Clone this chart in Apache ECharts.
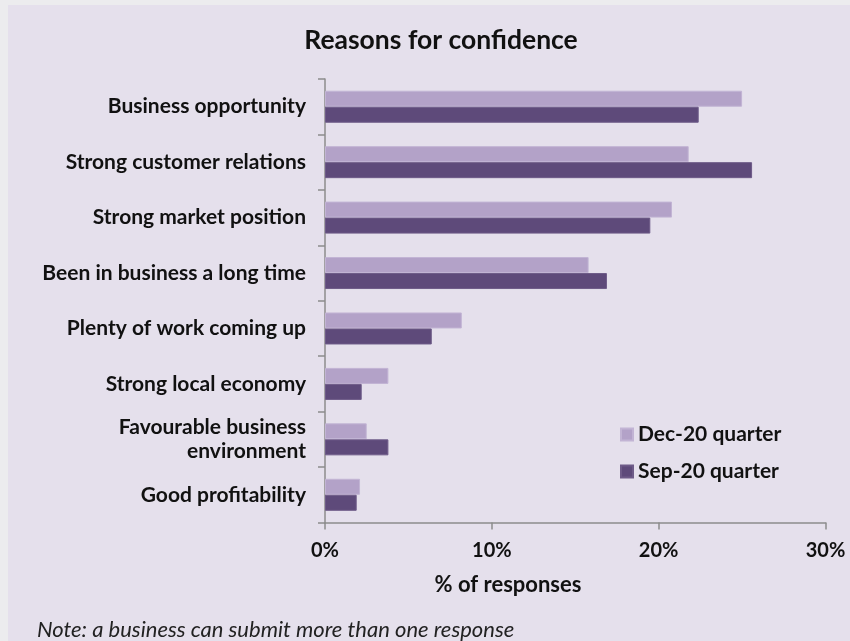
<!DOCTYPE html>
<html>
<head>
<meta charset="utf-8">
<script src="https://cdn.jsdelivr.net/npm/echarts@6/dist/echarts.min.js"></script>
<style>
html,body{margin:0;padding:0;background:#ececee;width:850px;height:641px;overflow:hidden;}
#c{position:absolute;left:8px;top:5px;width:842px;height:636px;background:#e5e0ec;}
</style>
</head>
<body>
<div id="c"></div>
<script>
const categories = ["Business opportunity","Strong customer relations","Strong market position","Been in business a long time","Plenty of work coming up","Strong local economy","Favourable business\nenvironment","Good profitability"];
const dec20 = [25.0, 21.8, 20.8, 15.8, 8.2, 3.8, 2.5, 2.1];
const sep20 = [22.4, 25.6, 19.5, 16.9, 6.4, 2.2, 3.8, 1.9];
const xTicks = [0, 10, 20, 30];

const chart = echarts.init(document.getElementById('c'), null, {renderer:'canvas'});
const F = 'Lato, "Open Sans", sans-serif';
chart.setOption({
  animation:false,
  textStyle:{fontFamily:F},
  title:[
    {text:'Reasons for confidence', left:428, top:17, textAlign:'center',
     textStyle:{fontFamily:F, fontWeight:'bold', fontSize:26.5, color:'#111'}},
    {text:'% of responses', left:495, top:564, textAlign:'center',
     textStyle:{fontFamily:F, fontWeight:'bold', fontSize:22, color:'#111'}},
    {text:'Note: a business can submit more than one response', left:24, top:609,
     textStyle:{fontFamily:F, fontStyle:'italic', fontWeight:'normal', fontSize:22, color:'#222'}}
  ],
  legend:{
    orient:'vertical', left:607, top:414, itemWidth:12, itemHeight:12, itemGap:16,
    textStyle:{fontFamily:F, fontWeight:'bold', fontSize:21, color:'#111'},
    data:['Dec-20 quarter','Sep-20 quarter'], icon:'rect'
  },
  grid:{left:317, right:24.5, top:74, bottom:118.5},
  xAxis:{
    type:'value', min:0, max:30, interval:10,
    axisLine:{show:true, lineStyle:{color:'#8c8c8c', width:1.5}},
    axisTick:{show:true, length:7, lineStyle:{color:'#8c8c8c', width:1.5}},
    splitLine:{show:false},
    axisLabel:{margin:18, fontFamily:F, fontWeight:'bold', fontSize:20, color:'#111',
      formatter:v=> xTicks.includes(v) ? v+'%' : ''}
  },
  yAxis:{
    type:'category', inverse:true, data:categories,
    axisLine:{show:true, lineStyle:{color:'#8c8c8c', width:1.5}},
    axisTick:{show:true, length:7, lineStyle:{color:'#8c8c8c', width:1.5}},
    axisLabel:{margin:19, fontFamily:F, fontWeight:'bold', fontSize:21, color:'#111', lineHeight:24, align:'right'}
  },
  series:[
    {name:'Dec-20 quarter', type:'bar', data:dec20, barWidth:16, barGap:'0%',
     itemStyle:{color:'#b3a2c8', borderColor:'#c2b4d4', borderWidth:1}},
    {name:'Sep-20 quarter', type:'bar', data:sep20, barWidth:16,
     itemStyle:{color:'#5e4a7a', borderColor:'#6e5b88', borderWidth:1}}
  ]
});
</script>
</body>
</html>
